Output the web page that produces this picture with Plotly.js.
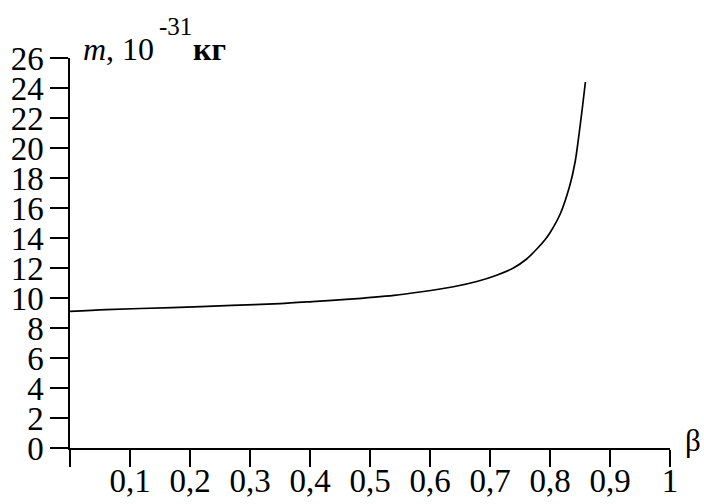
<!DOCTYPE html>
<html>
<head>
<meta charset="utf-8">
<script src="https://cdn.plot.ly/plotly-3.0.1.min.js"></script>
<style>html,body{margin:0;padding:0;background:#fff;}#chart{width:704px;height:504px;}</style>
</head>
<body>
<div id="chart"></div>
<script>
// Data
const beta = [0, 0.06, 0.17, 0.27, 0.35, 0.41, 0.46, 0.54, 0.583, 0.639, 0.678, 0.711, 0.739, 0.761, 0.78, 0.792, 0.80, 0.817, 0.833, 0.842, 0.848, 0.854, 0.859];
const mass = [9.11, 9.23, 9.36, 9.51, 9.63, 9.78, 9.91, 10.18, 10.4, 10.75, 11.1, 11.52, 12.0, 12.6, 13.35, 13.9, 14.35, 15.6, 17.5, 19.1, 20.8, 22.7, 24.4];
const xTickVals = [0, 0.1, 0.2, 0.3, 0.4, 0.5, 0.6, 0.7, 0.8, 0.9, 1];
const xTickText = ['', '0,1', '0,2', '0,3', '0,4', '0,5', '0,6', '0,7', '0,8', '0,9', '1'];
const yTickVals = [0, 2, 4, 6, 8, 10, 12, 14, 16, 18, 20, 22, 24, 26];
const yTickText = yTickVals.map(String);

const serif = 'Liberation Serif, Times New Roman, serif';

const trace = {
  x: beta, y: mass, type: 'scatter', mode: 'lines',
  line: {color: '#000', width: 1.7, shape: 'spline', smoothing: 0.8},
  hoverinfo: 'none'
};

const layout = {
  width: 704, height: 504,
  margin: {l: 70, r: 34, t: 58, b: 56, pad: 0},
  paper_bgcolor: '#fff', plot_bgcolor: '#fff',
  showlegend: false,
  font: {family: serif, color: '#000', size: 33},
  xaxis: {
    range: [0, 1], tickmode: 'array', tickvals: xTickVals, ticktext: xTickText,
    ticks: 'outside', ticklen: 17, tickwidth: 1.6, tickcolor: '#000',
    showline: true, linecolor: '#000', linewidth: 1.6,
    showgrid: false, zeroline: false, tickangle: 0,
    ticklabelstandoff: -14,
    tickfont: {family: serif, size: 33, color: '#000'}
  },
  yaxis: {
    range: [0, 26], tickmode: 'array', tickvals: yTickVals, ticktext: yTickText,
    ticks: 'outside', ticklen: 18, tickwidth: 1.6, tickcolor: '#000',
    showline: true, linecolor: '#000', linewidth: 1.6,
    showgrid: false, zeroline: false,
    tickfont: {family: serif, size: 33, color: '#000'}
  },
  annotations: [
    {xref: 'paper', yref: 'paper', x: 0.02, y: 1.0223, xanchor: 'left', yanchor: 'middle',
     text: '<i>m</i>, 10', showarrow: false, borderpad: 0,
     font: {family: serif, size: 32, color: '#000'}},
    {xref: 'paper', yref: 'paper', x: 0.1467, y: 1.0813, xanchor: 'left', yanchor: 'middle',
     text: '-31', showarrow: false, borderpad: 0,
     font: {family: serif, size: 25, color: '#000'}},
    {xref: 'paper', yref: 'paper', x: 0.2033, y: 1.0223, xanchor: 'left', yanchor: 'middle',
     text: '<b>кг</b>', showarrow: false, borderpad: 0,
     font: {family: serif, size: 32, color: '#000'}},
    {xref: 'paper', yref: 'paper', x: 1.0233, y: 0.02, xanchor: 'left', yanchor: 'middle',
     text: 'β', showarrow: false, borderpad: 0,
     font: {family: serif, size: 31, color: '#000'}}
  ]
};

Plotly.newPlot('chart', [trace], layout, {staticPlot: true, displayModeBar: false});
</script>
</body>
</html>
